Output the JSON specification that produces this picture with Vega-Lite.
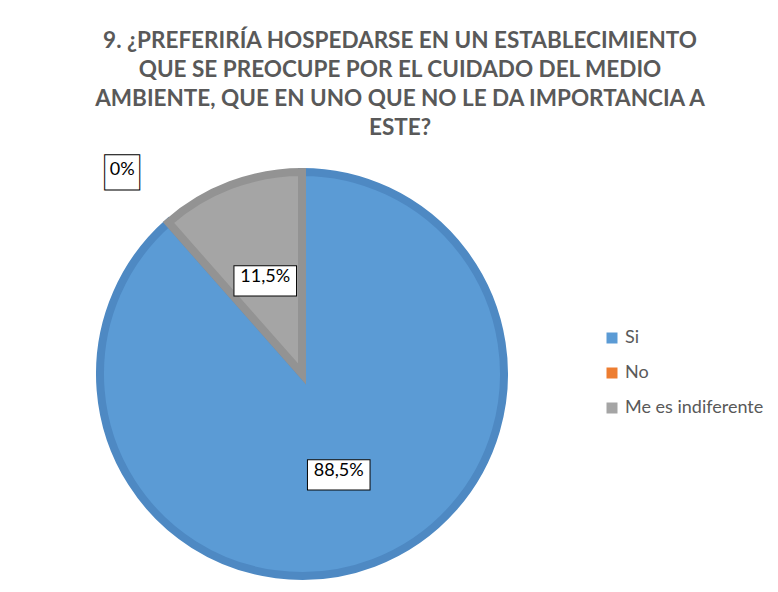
{
  "$schema": "https://vega.github.io/schema/vega-lite/v6.json",
  "width": 410,
  "height": 412,
  "autosize": {"type": "none"},
  "padding": {"left": 97, "top": 168, "right": 271, "bottom": 12},
  "background": "white",
  "title": {
    "text": ["9. ¿PREFERIRÍA  HOSPEDARSE EN UN ESTABLECIMIENTO", "QUE SE PREOCUPE POR EL CUIDADO DEL MEDIO", "AMBIENTE, QUE EN UNO QUE NO LE DA IMPORTANCIA A", "ESTE?"],
    "orient": "top",
    "anchor": "middle",
    "frame": "group",
    "dx": 98,
    "offset": -16,
    "baseline": "bottom",
    "font": "Lato",
    "fontSize": 22.5,
    "fontWeight": "bold",
    "color": "#595959",
    "lineHeight": 29
  },
  "data": {
    "values": [
      {"cat": "Si", "value": 88.5, "label": "88,5%", "idx": 1},
      {"cat": "No", "value": 0, "label": "0%", "idx": 2},
      {"cat": "Me es indiferente", "value": 11.5, "label": "11,5%", "idx": 3}
    ]
  },
  "encoding": {
    "theta": {"field": "value", "type": "quantitative", "stack": true},
    "order": {"field": "idx", "type": "quantitative"}
  },
  "layer": [
    {
      "mark": {"type": "arc", "radius": 202, "strokeWidth": 8, "strokeJoin": "miter"},
      "encoding": {
        "color": {
          "field": "cat",
          "type": "nominal",
          "scale": {"domain": ["Si", "No", "Me es indiferente"], "range": ["#5b9bd5", "#ed7d31", "#a5a5a5"]},
          "legend": {
            "orient": "none",
            "legendX": 506,
            "legendY": 161,
            "title": null,
            "symbolType": "square",
            "symbolSize": 121,
            "symbolStrokeWidth": 0,
            "labelFont": "Lato",
            "labelFontSize": 18,
            "labelColor": "#595959",
            "rowPadding": 17,
            "labelOffset": 4,
            "padding": 0
          }
        },
        "stroke": {
          "field": "cat",
          "type": "nominal",
          "scale": {"domain": ["Si", "No", "Me es indiferente"], "range": ["#4e89c3", "transparent", "#939393"]},
          "legend": null
        }
      }
    },
    {
      "mark": {"type": "text", "font": "DejaVu Sans", "fill": "white", "stroke": "black", "strokeWidth": 1, "align": "center", "baseline": "middle"},
      "encoding": {
        "text": {"condition": {"test": "datum.value == 0", "value": "■"}, "value": "▬"},
        "size": {"condition": {"test": "datum.value == 0", "value": 46}, "value": 82},
        "radius": {"field": "value", "type": "quantitative", "scale": {"domain": [0, 11.5], "range": [272, 104], "clamp": true, "zero": false}}
      }
    },
    {
      "mark": {"type": "text", "font": "Lato", "fontSize": 18, "fill": "black", "align": "center", "baseline": "middle"},
      "encoding": {
        "text": {"field": "label", "type": "nominal"},
        "radius": {"field": "value", "type": "quantitative", "scale": {"domain": [0, 11.5], "range": [272, 104], "clamp": true, "zero": false}}
      }
    }
  ],
  "config": {"view": {"stroke": null}}
}
